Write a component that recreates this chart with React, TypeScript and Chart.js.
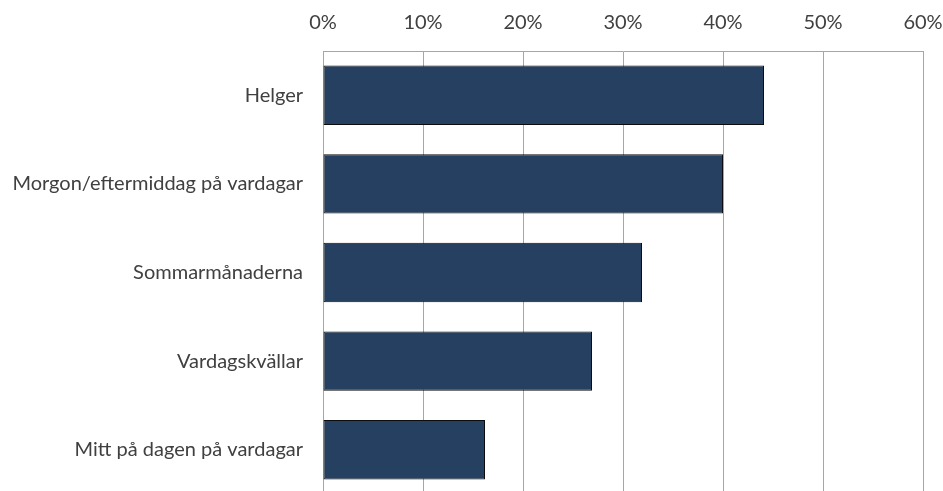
import React, { useEffect, useRef } from "react";
import { Chart, registerables } from "chart.js";

Chart.register(...registerables);

const categories = [
  "Helger",
  "Morgon/eftermiddag på vardagar",
  "Sommarmånaderna",
  "Vardagskvällar",
  "Mitt på dagen på vardagar",
];
const values = [44.1, 40.0, 31.9, 26.9, 16.2];
const xTickMin = 0;
const xTickMax = 60;
const xTickStep = 10;

export default function App() {
  const ref = useRef<HTMLCanvasElement | null>(null);

  useEffect(() => {
    const canvas = ref.current;
    if (!canvas) return;
    const chart = new Chart(canvas, {
      type: "bar",
      data: {
        labels: categories,
        datasets: [
          {
            data: values,
            backgroundColor: "#264061",
            borderColor: "#0d0d0d",
            borderWidth: 1,
            borderSkipped: false,
            categoryPercentage: 1,
            barPercentage: 0.67,
          },
        ],
      },
      options: {
        indexAxis: "y",
        animation: false,
        responsive: false,
        maintainAspectRatio: false,
        layout: { padding: { left: 0, top: 0, right: 20, bottom: 0 } },
        plugins: {
          legend: { display: false },
          tooltip: { enabled: false },
        },
        scales: {
          x: {
            position: "top",
            min: xTickMin,
            max: xTickMax,
            ticks: {
              stepSize: xTickStep,
              callback: (v: any) => v + "%",
              color: "#404040",
              font: { family: "Lato", size: 20 },
              padding: 16,
              maxRotation: 0,
            },
            grid: { color: "#a6a6a6", lineWidth: 1, drawTicks: false },
            border: { display: true, color: "#a6a6a6" },
            afterFit: (s: any) => {
              s.height = 51;
              s.paddingLeft = 0;
              s.paddingRight = 0;
            },
          },
          y: {
            ticks: {
              color: "#404040",
              font: { family: "Lato", size: 20 },
              padding: 20,
            },
            grid: { display: false, drawTicks: false },
            border: { display: true, color: "#a6a6a6" },
            afterFit: (s: any) => {
              s.width = 323;
              s.paddingTop = 0;
              s.paddingBottom = 0;
            },
          },
        },
      },
    });
    return () => chart.destroy();
  }, []);

  return (
    <div
      style={{
        position: "fixed",
        left: 0,
        top: 0,
        width: 943,
        height: 491,
        overflow: "hidden",
        background: "#ffffff",
      }}
    >
      <canvas ref={ref} width={943} height={494} style={{ width: 943, height: 494, display: "block" }} />
    </div>
  );
}
